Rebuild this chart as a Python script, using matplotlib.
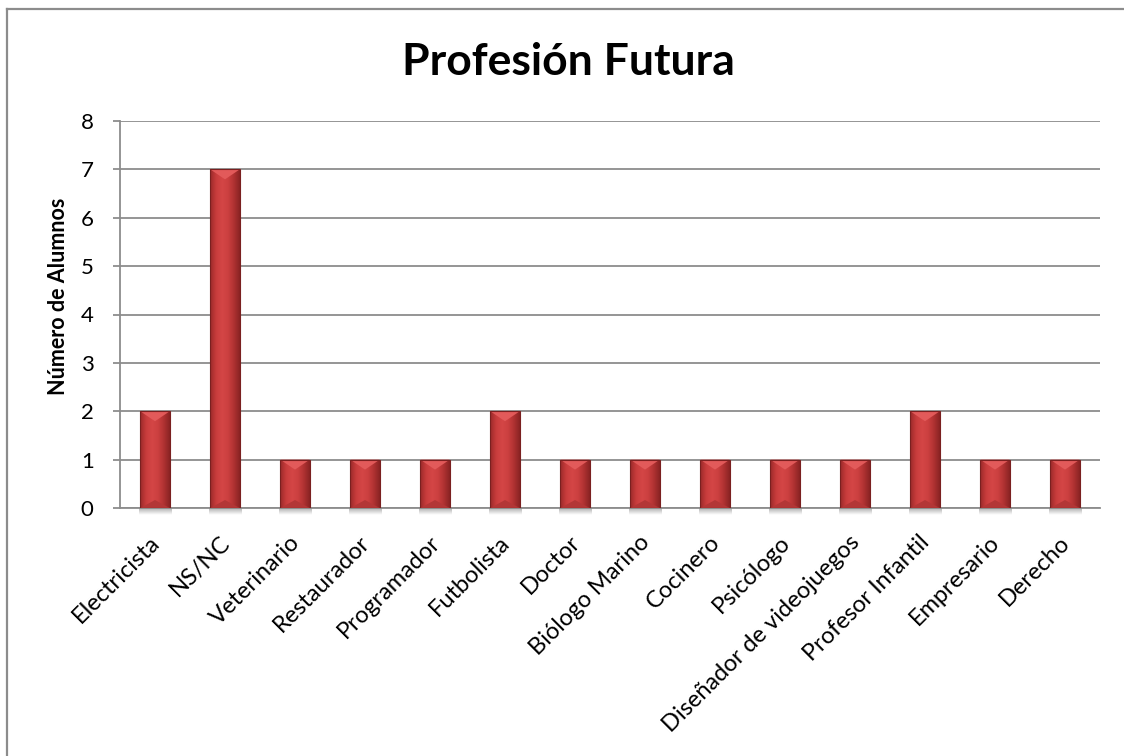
import numpy as np
import matplotlib
matplotlib.use("Agg")
import matplotlib.pyplot as plt
from matplotlib.patches import Polygon
from matplotlib.lines import Line2D
from matplotlib.colors import LinearSegmentedColormap
from matplotlib.transforms import ScaledTranslation

# Data
categories = ["Electricista", "NS/NC", "Veterinario", "Restaurador", "Programador",
              "Futbolista", "Doctor", "Biólogo Marino", "Cocinero", "Psicólogo",
              "Diseñador de videojuegos", "Profesor Infantil", "Empresario", "Derecho"]
alumnos = [2, 7, 1, 1, 1, 2, 1, 1, 1, 1, 1, 2, 1, 1]
yticks = list(range(0, 9))

plt.rcParams["font.family"] = ["Lato", "DejaVu Sans"]

W, H = 1124, 756
fig = plt.figure(figsize=(W / 100, H / 100), dpi=100)
fig.patch.set_facecolor("white")

# chart frame (left and top edges)
fx0, fy0 = 7 / W, 1 - 9 / H
fig.add_artist(Line2D([fx0, fx0], [0, fy0], transform=fig.transFigure, color="#8c8c8c", lw=1.6))
fig.add_artist(Line2D([fx0, 1], [fy0, fy0], transform=fig.transFigure, color="#8c8c8c", lw=1.6))

left, right, top, bottom = 120, 1100, 121, 508
ax = fig.add_axes([left / W, 1 - bottom / H, (right - left) / W, (bottom - top) / H])

x = np.arange(len(categories))
bw = 0.42
bars = ax.bar(x, alumnos, width=bw, color="#c83c3c", edgecolor="none", zorder=3)

ax.set_xlim(-0.5, len(categories) - 0.5)
ax.set_ylim(0, 8)
ax.set_yticks(yticks)
ax.yaxis.grid(True, color="#8c8c8c", lw=1.3, zorder=0)
ax.set_axisbelow(True)
for s in ["top", "right"]:
    ax.spines[s].set_visible(False)
ax.spines["left"].set_color("#8c8c8c")
ax.spines["bottom"].set_color("#8c8c8c")
ax.spines["left"].set_linewidth(1.3)
ax.spines["bottom"].set_linewidth(1.3)
ax.tick_params(axis="y", length=5, color="#8c8c8c", width=1.3, labelsize=16, pad=14)
ax.tick_params(axis="x", length=0, pad=17)
ax.set_xticks(x)
ax.set_xticklabels(categories, rotation=45, ha="right", rotation_mode="anchor", fontsize=17)
shift = ScaledTranslation(-6 / 100, 0, fig.dpi_scale_trans)
for lab in ax.get_xticklabels():
    lab.set_transform(lab.get_transform() + shift)

ax.set_ylabel("Número de Alumnos", fontsize=15.5, fontweight="bold")
ax.yaxis.set_label_coords(-0.052, 0.547)
fig.text(568 / W, 1 - 62 / H, "Profesión Futura", ha="center", va="center",
         fontsize=32, fontweight="bold")

# bevelled bar look: horizontal shading, lighter top facet, darker bottom facet
shade = LinearSegmentedColormap.from_list(
    "bar", ["#9a2a2a", "#c83c3c", "#d44646", "#cc4040", "#b03232", "#8a2424"])
grad = np.linspace(0, 1, 64).reshape(1, -1)
px_per_unit = (bottom - top) / 8
bev = 10 / px_per_unit
shadow_depth = 7 / px_per_unit
sh = np.zeros((16, 1, 4))
sh[..., :3] = 0.45
sh[:, 0, 3] = np.linspace(0.55, 0.0, 16)
for rect in bars:
    x0, w, h = rect.get_x(), rect.get_width(), rect.get_height()
    im = ax.imshow(grad, cmap=shade, aspect="auto", extent=[x0, x0 + w, 0, h],
                   zorder=3, interpolation="bicubic")
    im.set_clip_path(rect)
    d = min(bev, h / 2)
    ax.add_patch(Polygon([[x0, h], [x0 + w, h], [x0 + w / 2, h - d]],
                         closed=True, facecolor="#e25a5a", edgecolor="none", zorder=4))
    ax.add_patch(Polygon([[x0, 0], [x0 + w, 0], [x0 + w / 2, d * 0.8]],
                         closed=True, facecolor="#b33636", edgecolor="none", zorder=4))
    ax.add_patch(Polygon([[x0, 0], [x0, h], [x0 + w, h], [x0 + w, 0]], closed=True,
                         facecolor="none", edgecolor="#7a2020", lw=0.8, zorder=5))
    # soft shadow under the bar
    ax.imshow(sh, aspect="auto", extent=[x0 - 0.02, x0 + w + 0.02, -shadow_depth, 0],
              zorder=2, interpolation="bilinear", clip_on=False)
ax.set_xlim(-0.5, len(categories) - 0.5)
ax.set_ylim(0, 8)

fig.savefig("out.png", dpi=100, facecolor="white")
